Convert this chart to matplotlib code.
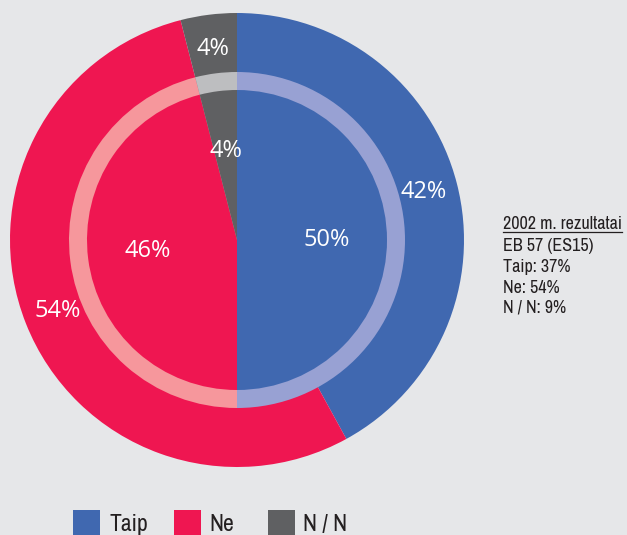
import matplotlib
matplotlib.use("Agg")
import matplotlib.pyplot as plt
from matplotlib.patches import Rectangle
from matplotlib import font_manager
from matplotlib.font_manager import FontProperties

# ---- data ----
categories = ["Taip", "Ne", "N / N"]
outer_values = [42, 54, 4]
inner_values = [50, 46, 4]
side_lines = ["2002 m. rezultatai", "EB 57 (ES15)", "Taip: 37%", "Ne: 54%", "N / N: 9%"]

colors = ["#4068b0", "#ef1651", "#5f6062"]
light_colors = ["#98a1d3", "#f6979c", "#bdbec0"]
bg = "#e6e7e9"

# find a narrow sans font if any is installed
narrow_file = None
cands = []
for f in font_manager.fontManager.ttflist:
    n = f.name
    fn = f.fname.lower()
    if f.style != "normal" or f.weight not in (400, "normal", "regular"):
        continue
    score = None
    if "Narrow" in n or "narrow" in fn:
        score = 0 if "Liberation" in n else 1
    elif "Condensed" in n or "condensed" in fn or f.stretch in ("condensed", "semi-condensed"):
        score = 2 if "DejaVu" not in n else 3
    if score is not None and "bold" not in fn and "italic" not in fn and "oblique" not in fn:
        cands.append((score, f.fname))
cands.sort()
if cands:
    narrow_file = cands[0][1]

def nfont(size):
    if narrow_file:
        return FontProperties(fname=narrow_file, size=size)
    return FontProperties(family="Liberation Sans", size=size * 0.86)

W, H = 627, 535
fig = plt.figure(figsize=(W / 100, H / 100), dpi=100, facecolor=bg)
ax = fig.add_axes([0, 0, 1, 1])
ax.set_facecolor(bg)

cx, cy = 237, H - 240
R_out, R_ring, R_in = 227, 168, 150

fmt = lambda p: f"{p:.0f}%"
txtprops = dict(color="white", fontsize=17, family="Open Sans", fontweight="normal")

ax.pie(outer_values, colors=colors, radius=R_out, center=(cx, cy), startangle=90,
       counterclock=False, autopct=fmt, pctdistance=0.85, textprops=txtprops,
       wedgeprops=dict(linewidth=0), frame=True)
ax.pie(inner_values, colors=light_colors, radius=R_ring, center=(cx, cy), startangle=90,
       counterclock=False, wedgeprops=dict(linewidth=0), frame=True)
ax.pie(inner_values, colors=colors, radius=R_in, center=(cx, cy), startangle=90,
       counterclock=False, autopct=fmt, pctdistance=0.6, textprops=txtprops,
       wedgeprops=dict(linewidth=0), frame=True)
ax.set_xlim(0, W)
ax.set_ylim(0, H)
ax.set_aspect("equal")
ax.axis("off")

# side text
baselines = [229, 251, 272, 293, 313]
texts = []
for line, b in zip(side_lines, baselines):
    t = ax.text(503, H - b, line, fontproperties=nfont(13),
                color="#231f20", va="baseline", ha="left")
    texts.append(t)

fig.canvas.draw()
r = fig.canvas.get_renderer()
bb = texts[0].get_window_extent(renderer=r)
inv = ax.transData.inverted()
(x0, _), (x1, _) = inv.transform([(bb.x0, 0), (bb.x1, 0)])
ax.plot([x0, x1], [H - 231.5, H - 231.5], color="#231f20", lw=0.9)

# legend
sq_x = [73, 174, 268]
txt_x = [109, 209, 303]
for c, lab, sx, tx in zip(colors, categories, sq_x, txt_x):
    ax.add_patch(Rectangle((sx, -5), 27, H - 510 + 5, facecolor=c, edgecolor="none"))
    ax.text(tx, H - 531, lab, fontproperties=nfont(17),
            color="#231f20", va="baseline", ha="left")

fig.savefig("out.png", dpi=100, facecolor=bg)
